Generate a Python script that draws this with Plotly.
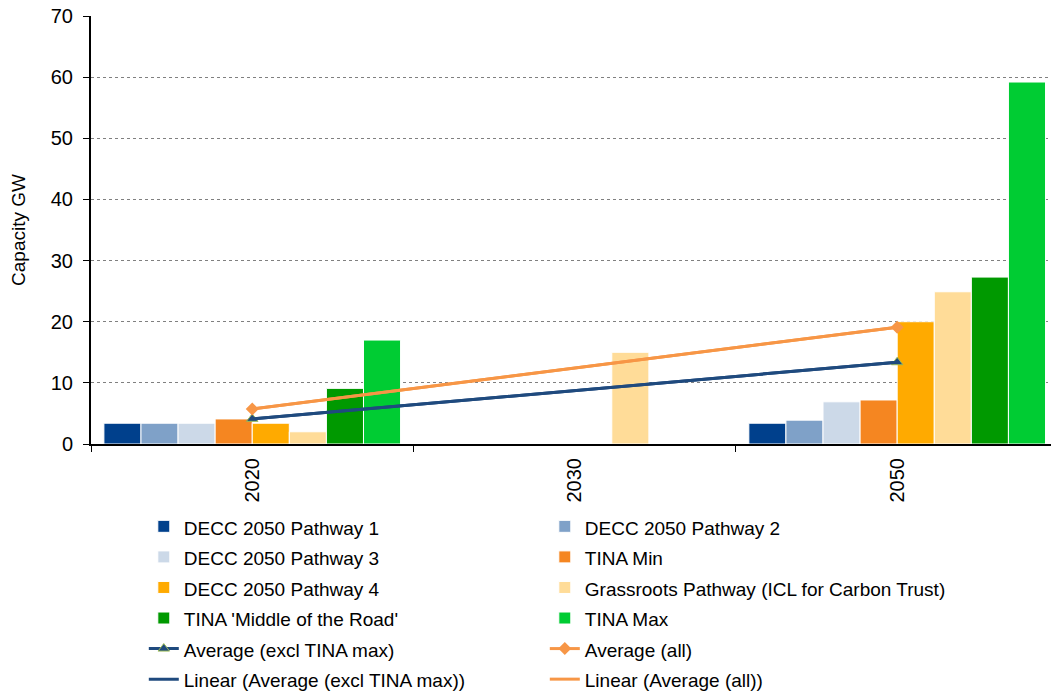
import numpy as np
import plotly.graph_objects as go

categories = ["2020", "2030", "2050"]
p1 = [3.4, None, 3.4]
p2 = [3.4, None, 3.9]
p3 = [3.4, None, 6.9]
tina_min = [4.1, None, 7.2]
p4 = [3.4, None, 20.0]
grassroots = [2.0, 15.0, 24.9]
tina_mid = [9.1, None, 27.3]
tina_max = [17.0, None, 59.2]

series = [
    ("DECC 2050 Pathway 1", p1, "#00408C"),
    ("DECC 2050 Pathway 2", p2, "#7FA1C8"),
    ("DECC 2050 Pathway 3", p3, "#CCD9E8"),
    ("TINA Min", tina_min, "#F58621"),
    ("DECC 2050 Pathway 4", p4, "#FFAA00"),
    ("Grassroots Pathway (ICL for Carbon Trust)", grassroots, "#FFDC98"),
    ("TINA 'Middle of the Road'", tina_mid, "#009900"),
    ("TINA Max", tina_max, "#00CC33"),
]

# averages at 2020 and 2050 only
avg_idx = [0, 2]
all_vals = [p1, p2, p3, tina_min, p4, grassroots, tina_mid, tina_max]
excl_vals = all_vals[:-1]
avg_all = [None] * 3
avg_excl = [None] * 3
for i in avg_idx:
    avg_all[i] = float(np.mean([s[i] for s in all_vals]))
    avg_excl[i] = float(np.mean([s[i] for s in excl_vals]))

def trend(vals):
    xs = np.array(avg_idx, dtype=float)
    ys = np.array([vals[i] for i in avg_idx])
    m, b = np.polyfit(xs, ys, 1)
    return [float(m * x + b) for x in avg_idx]

def lbl(s):
    return '<span style="font-size:19px">' + s + '</span>'

fig = go.Figure()
for name, vals, col in series:
    fig.add_trace(go.Bar(name=lbl(name), x=categories, y=vals, marker_color=col,
                         marker_line_color="white", marker_line_width=1))

blue = "#1F4A7E"
orange = "#F79646"
fig.add_trace(go.Scatter(name=lbl("Average (excl TINA max)"), x=categories, y=avg_excl,
                         mode="lines+markers", connectgaps=True,
                         line=dict(color=blue, width=3),
                         marker=dict(symbol="triangle-up", size=10, color=blue,
                                     line=dict(color="#9BBB59", width=1))))
fig.add_trace(go.Scatter(name=lbl("Average (all)"), x=categories, y=avg_all,
                         mode="lines+markers", connectgaps=True,
                         line=dict(color=orange, width=3),
                         marker=dict(symbol="diamond", size=10, color=orange)))
fig.add_trace(go.Scatter(name=lbl("Linear (Average (excl TINA max))"),
                         x=[categories[i] for i in avg_idx], y=trend(avg_excl),
                         mode="lines", line=dict(color=blue, width=3)))
fig.add_trace(go.Scatter(name=lbl("Linear (Average (all))"),
                         x=[categories[i] for i in avg_idx], y=trend(avg_all),
                         mode="lines", line=dict(color=orange, width=3)))

fig.update_layout(
    width=1052, height=694,
    margin=dict(l=91, r=1, t=16, b=250, autoexpand=False),
    barmode="group", bargap=0.08, bargroupgap=0,
    plot_bgcolor="white", paper_bgcolor="white",
    font=dict(family="Liberation Sans, Arial, sans-serif", size=20, color="#000000"),
    showlegend=True,
    legend=dict(orientation="h", x=0.055, y=-0.145, xanchor="left", yanchor="top",
                entrywidth=356, entrywidthmode="pixels",
                font=dict(size=21.2), traceorder="normal", itemwidth=30),
    xaxis=dict(type="category", range=[-0.5, 2.477], showline=True, linecolor="black",
               linewidth=2, ticks="outside", tickson="boundaries", ticklen=6,
               tickcolor="black", tickangle=-90, tickfont=dict(size=20),
               ticklabelstandoff=4, showgrid=False),
    yaxis=dict(range=[0, 70], dtick=10, showline=True, linecolor="black", linewidth=2,
               ticks="outside", ticklen=6, tickcolor="black",
               showgrid=True, gridcolor="#808080", griddash="dot", gridwidth=1,
               tickfont=dict(size=20), ticklabelstandoff=6, zeroline=False,
               title=dict(text="Capacity GW", font=dict(size=19), standoff=20)),
)

fig.write_html("out.html")
